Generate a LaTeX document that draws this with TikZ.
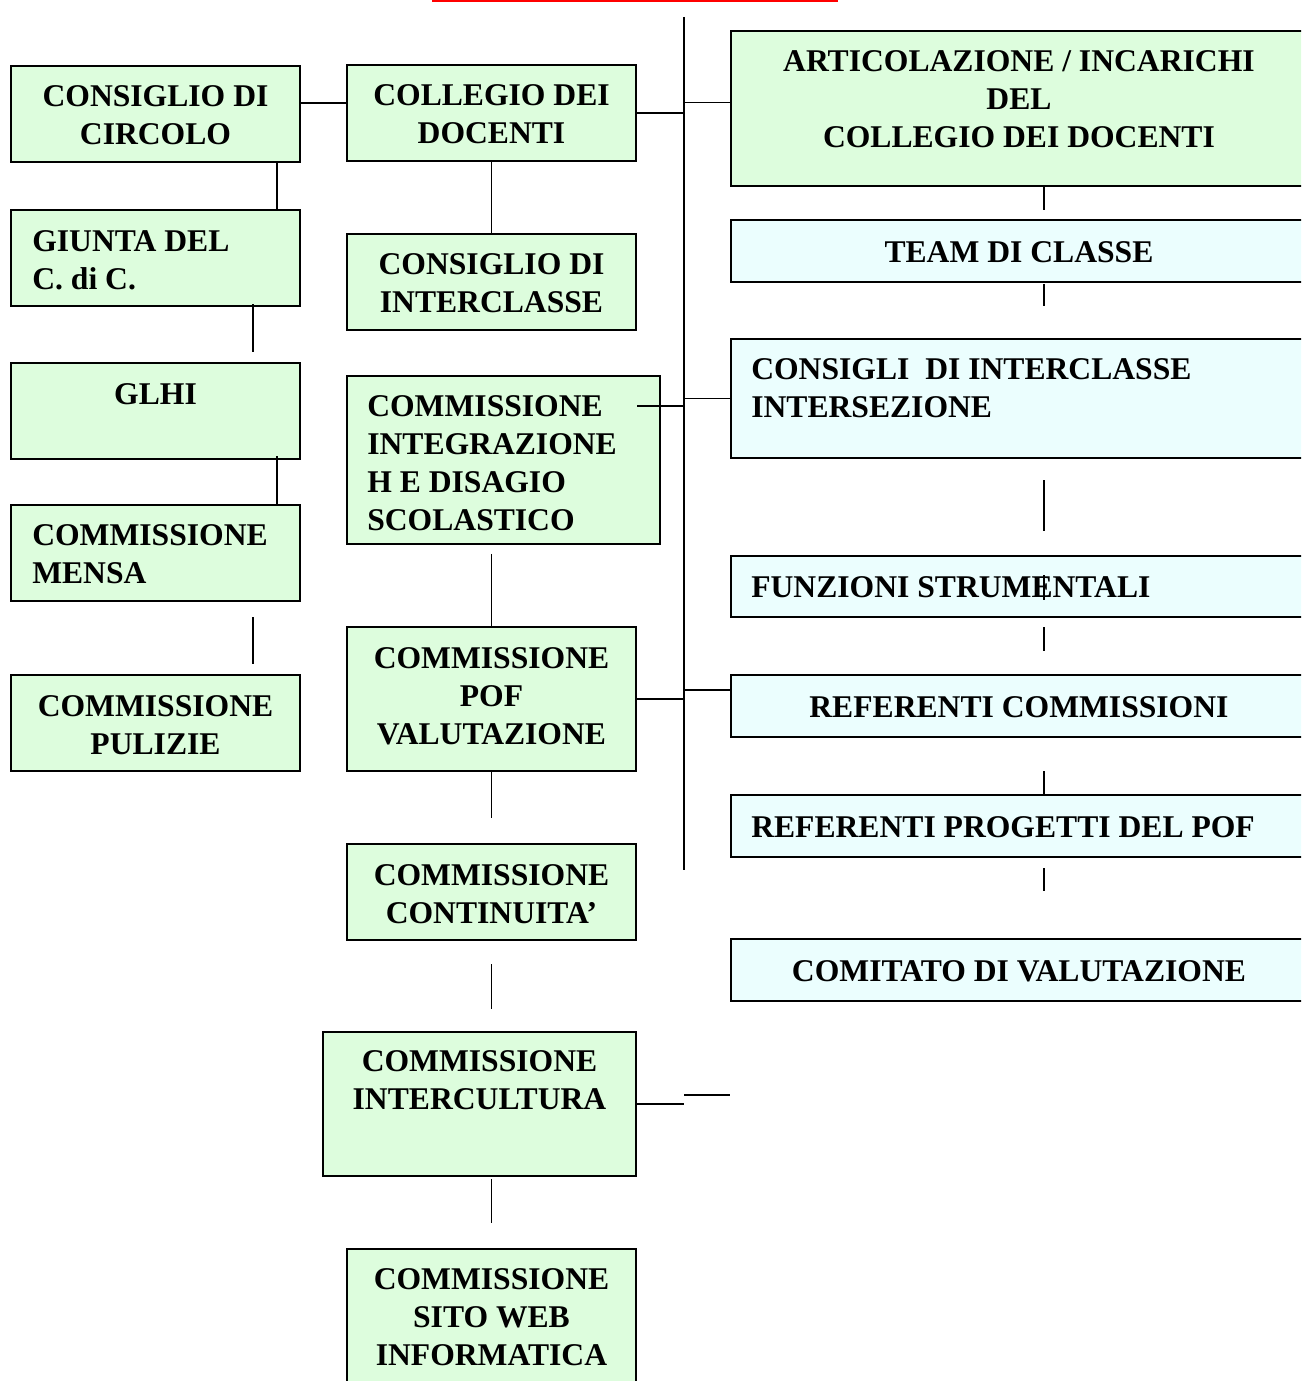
\documentclass[tikz,border=0pt]{standalone}
\usepackage{fontspec}
\setmainfont{Liberation Serif}
\usetikzlibrary{fit,calc}

\definecolor{boxgreen}{RGB}{221,253,221}
\definecolor{boxcyan}{RGB}{235,254,254}

\tikzset{
  gbox/.style={draw, fill=boxgreen, line width=1.2pt, inner sep=0pt},
  cbox/.style={draw, fill=boxcyan, line width=1.2pt, inner sep=0pt},
  lbl/.style={inner sep=0pt, font=\bfseries\fontsize{18}{21.6}\selectfont},
  ctext/.style={lbl, anchor=north, align=center},
  ltext/.style={lbl, anchor=north west, align=left},
  link/.style={line width=1.1pt}
}

\begin{document}
\begin{tikzpicture}[x=0.02cm, y=-0.02cm]
        \clip (0,0) rectangle (1301,1381);
        \useasboundingbox (0,0) rectangle (1301,1381);
        \draw[red, line width=2pt] (432,0.5) -- (838,0.5);

        % left column
        \node[gbox, fit={(11,66) (300,162)}] (cc) {};
        \node[gbox, fit={(11,210) (300,306)}] (gi) {};
        \node[gbox, fit={(11,363) (300,459)}] (gl) {};
        \node[gbox, fit={(11,505) (300,601)}] (me) {};
        \node[gbox, fit={(11,675) (300,771)}] (pu) {};
        \node[ctext] (cc-t) at ($(cc.north)+(0,20)$) {CONSIGLIO DI\\CIRCOLO};
        \node[ltext] (gi-t) at ($(gi.north west)+(22,21)$) {GIUNTA DEL\\C. di C.};
        \node[ctext] (gl-t) at ($(gl.north)+(0,21)$) {GLHI};
        \node[ltext] (me-t) at ($(me.north west)+(22,20)$) {COMMISSIONE\\MENSA};
        \node[ctext] (pu-t) at ($(pu.north)+(0,21)$) {COMMISSIONE\\PULIZIE};

        % middle column
        \node[gbox, fit={(347,65) (636,161)}] (cd) {};
        \node[gbox, fit={(347,234) (636,330)}] (ci) {};
        \node[gbox, fit={(347,376) (660,544)}] (ig) {};
        \node[gbox, fit={(347,627) (636,771)}] (pof) {};
        \node[gbox, fit={(347,844) (636,940)}] (co) {};
        \node[gbox, fit={(323,1032) (636,1176)}] (ic) {};
        \node[gbox, fit={(347,1249) (636,1400)}] (sw) {};
        \node[ctext] (cd-t) at ($(cd.north)+(0,20)$) {COLLEGIO DEI\\DOCENTI};
        \node[ctext] (ci-t) at ($(ci.north)+(0,20)$) {CONSIGLIO DI\\INTERCLASSE};
        \node[ltext] (ig-t) at ($(ig.north west)+(21,20)$) {COMMISSIONE\\INTEGRAZIONE\\H E DISAGIO\\SCOLASTICO};
        \node[ctext] (pof-t) at ($(pof.north)+(0,21)$) {COMMISSIONE\\POF\\VALUTAZIONE};
        \node[ctext] (co-t) at ($(co.north)+(0,21)$) {COMMISSIONE\\CONTINUITA’};
        \node[ctext] (ic-t) at ($(ic.north)+(0,19)$) {COMMISSIONE\\INTERCULTURA};
        \node[ctext] (sw-t) at ($(sw.north)+(0,20)$) {COMMISSIONE\\SITO WEB\\INFORMATICA};

        % right column
        \node[gbox, fit={(731,31) (1312,186)}] (art) {};
        \node[cbox, fit={(731,220) (1312,282)}] (team) {};
        \node[cbox, fit={(731,339) (1312,458)}] (cons) {};
        \node[cbox, fit={(731,556) (1312,617)}] (fs) {};
        \node[cbox, fit={(731,675) (1312,737)}] (rc) {};
        \node[cbox, fit={(731,795) (1312,857)}] (rp) {};
        \node[cbox, fit={(731,939) (1312,1001)}] (cv) {};
        \node[ctext] (art-t) at ($(art.north west)+(289,20)$) {ARTICOLAZIONE / INCARICHI\\DEL\\COLLEGIO DEI DOCENTI};
        \node[ctext] (team-t) at ($(team.north west)+(289,22)$) {TEAM DI CLASSE};
        \node[ltext] (cons-t) at ($(cons.north west)+(21,20)$) {CONSIGLI\ \ DI INTERCLASSE\\INTERSEZIONE};
        \node[ltext] (fs-t) at ($(fs.north west)+(21,21)$) {FUNZIONI STRUMENTALI};
        \node[ctext] (rc-t) at ($(rc.north west)+(289,22)$) {REFERENTI COMMISSIONI};
        \node[ltext] (rp-t) at ($(rp.north west)+(21,22)$) {REFERENTI PROGETTI DEL POF};
        \node[ctext] (cv-t) at ($(cv.north west)+(289,22)$) {COMITATO DI VALUTAZIONE};

        % trunk and branches
        \coordinate (tt) at (684,17);
        \coordinate (tb) at (684,870);
        \draw[link] (tt) -- (tb);
        \draw[link] (cc.east |- 0,103) coordinate (c0) -- (c0 -| cd.west);
        \draw[link] (cd.east) -- (cd.east -| tt);
        \draw[link] ($(art.west)+(0,-6)$) coordinate (a0) -- (a0 -| tt);
        \draw[link] ($(ig.north east)+(-24,31)$) coordinate (i0) -- (i0 -| tt);
        \draw[link] (cons.west) -- (cons.west -| tt);
        \draw[link] (pof.east) -- (pof.east -| tt);
        \draw[link] ($(rc.west)+(0,-16)$) coordinate (r0) -- (r0 -| tt);
        \draw[link] (ic.east) -- (ic.east -| tt) coordinate (i1);
        \draw[link] ($(i1)+(0,-9)$) coordinate (i2) -- (i2 -| cv.west);

        % left links
        \draw[link] ($(cc.south east)+(-24,0)$) coordinate (l1) -- (l1 |- gi.north);
        \draw[link] ($(gi.south east)+(-48,-3)$) coordinate (l2) -- ++(0,48);
        \draw[link] ($(gl.south east)+(-24,-4)$) coordinate (l3) -- (l3 |- me.north);
        \draw[link] ($(me.south east)+(-48,15)$) coordinate (l4) -- ++(0,47);

        % middle links
        \draw[link] (cd.south) -- (ci.north);
        \draw[link] ($(pof.north)+(0,-72)$) -- (pof.north);
        \draw[link] (pof.south) -- ++(0,46);
        \draw[link] ($(co.south)+(0,23)$) -- ++(0,45);
        \draw[link] ($(sw.north)+(0,-69)$) -- ++(0,44);

        % right links
        \coordinate (rx) at (1044,0);
        \foreach \a/\b in {186/210, 284/306, 480/531, 575/600, 627/651, 771/795, 868/891}
          \draw[link] (rx |- 0,\a) -- (rx |- 0,\b);
\end{tikzpicture}
\end{document}
